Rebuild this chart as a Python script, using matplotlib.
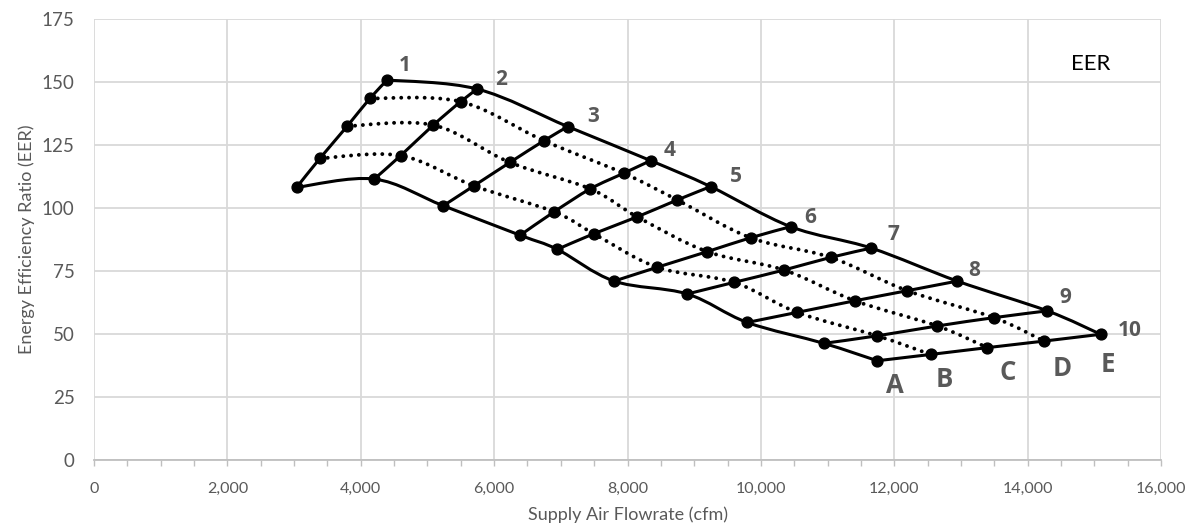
import numpy as np
import matplotlib
matplotlib.use('Agg')
import matplotlib.pyplot as plt
from matplotlib.path import Path
from matplotlib.patches import PathPatch
from matplotlib.ticker import MultipleLocator, FuncFormatter

plt.rcParams['font.family'] = ['Lato', 'DejaVu Sans']

# flowrate (cfm) and EER for curves A..E, one value per speed line 1..10
flow_A = [3039, 4203, 5238, 6390, 6947, 7799, 8896, 9796, 10945, 11745]
flow_B = [3388, 4599, 5697, 6900, 7495, 8446, 9597, 10545, 11745, 12545]
flow_C = [3798, 5088, 6237, 7442, 8146, 9196, 10346, 11410, 12645, 13394]
flow_D = [4138, 5498, 6747, 7942, 8746, 9846, 11046, 12195, 13495, 14244]
flow_E = [4398, 5748, 7105, 8347, 9246, 10446, 11655, 12945, 14294, 15094]

eer_A = [108.2, 111.5, 100.9, 89.2, 83.6, 71.0, 65.9, 54.6, 46.3, 39.4]
eer_B = [119.7, 120.8, 108.8, 98.5, 89.8, 76.5, 70.5, 58.6, 49.3, 41.9]
eer_C = [132.5, 132.9, 118.1, 107.6, 96.5, 82.7, 75.4, 63.2, 53.2, 44.6]
eer_D = [143.5, 142.2, 126.7, 113.8, 103.2, 88.2, 80.4, 67.2, 56.5, 47.2]
eer_E = [150.8, 147.2, 132.3, 118.8, 108.5, 92.6, 84.1, 71.0, 59.2, 49.9]

curve_names = ['A', 'B', 'C', 'D', 'E']
speed_names = [str(i) for i in range(1, 11)]

flows = np.array([flow_A, flow_B, flow_C, flow_D, flow_E], dtype=float)
eers = np.array([eer_A, eer_B, eer_C, eer_D, eer_E], dtype=float)


def smooth_path(xs, ys):
    # Excel-style smoothed line: cubic bezier through the points
    pts = np.column_stack([xs, ys])
    n = len(pts)
    verts = [pts[0]]
    codes = [Path.MOVETO]
    for i in range(n - 1):
        p0 = pts[max(i - 1, 0)]
        p1 = pts[i]
        p2 = pts[i + 1]
        p3 = pts[min(i + 2, n - 1)]
        c1 = p1 + (p2 - p0) / 6.0
        c2 = p2 - (p3 - p1) / 6.0
        verts += [c1, c2, p2]
        codes += [Path.CURVE4] * 3
    return Path(verts, codes)


fig = plt.figure(figsize=(11.94, 5.27), dpi=100)
ax = fig.add_axes([0.0787, 0.127, 0.8937, 0.837])

# speed lines 1..10 (A to E)
for j in range(flows.shape[1]):
    p = smooth_path(flows[:, j], eers[:, j])
    ax.add_patch(PathPatch(p, fill=False, edgecolor='black', lw=2.2, zorder=3))

# curves A..E across speeds
for i, name in enumerate(curve_names):
    if name in ('A', 'E'):
        ax.add_patch(PathPatch(smooth_path(flows[i], eers[i]), fill=False,
                               edgecolor='black', lw=2.2, zorder=3))
    else:
        ax.add_patch(PathPatch(smooth_path(flows[i], eers[i]), fill=False,
                               edgecolor='black', lw=2.8, linestyle=(0, (0.01, 2.0)),
                               capstyle='round', zorder=3))

ax.plot(flows.ravel(), eers.ravel(), 'o', color='black', ms=7.8, zorder=4)

lab_font = ['Open Sans', 'DejaVu Sans']

# speed labels beside the E points
num_off = [(8, 3), (13, -1), (14, 0), (9, 0), (14, 0), (10, -1), (12, 2), (8, 0), (9, 2), (12, -5)]
for j, name in enumerate(speed_names):
    ax.annotate(name, (flows[4, j], eers[4, j]), xytext=num_off[j],
                textcoords='offset points', ha='left', va='bottom', family=lab_font,
                fontsize=15, fontweight='bold', color='#595959')

# curve labels below the speed 10 points
let_off = [(13, -8), (10, -8), (15, -8), (13, -10), (5, -12)]
for i, name in enumerate(curve_names):
    ax.annotate(name, (flows[i, -1], eers[i, -1]), xytext=let_off[i],
                textcoords='offset points', ha='center', va='top', family=lab_font,
                fontsize=18.5, fontweight='bold', color='#595959')

ax.text(0.934, 0.897, 'EER', transform=ax.transAxes, ha='center', va='center',
        fontsize=16, color='black')

ax.set_xlim(0, 16000)
ax.set_ylim(0, 175)
ax.xaxis.set_major_locator(MultipleLocator(2000))
ax.xaxis.set_minor_locator(MultipleLocator(500))
ax.yaxis.set_major_locator(MultipleLocator(25))
ax.xaxis.set_major_formatter(FuncFormatter(lambda v, p: f'{int(v):,}'))

ax.grid(True, which='major', color='#d9d9d9', lw=1.3, zorder=0)
ax.set_axisbelow(True)
for s in ['top', 'right', 'left']:
    ax.spines[s].set_visible(False)
ax.spines['bottom'].set_color('#bfbfbf')
ax.spines['bottom'].set_linewidth(1.3)

ax.tick_params(axis='x', which='both', direction='out', length=4, color='#bfbfbf',
               width=1.0, labelsize=11.5, labelcolor='#595959', pad=12)
ax.tick_params(axis='y', length=0, labelsize=13.5, labelcolor='#595959', pad=14)

ax.set_xlabel('Supply Air Flowrate (cfm)', fontsize=13, color='#595959', labelpad=7)
ax.set_ylabel('Energy Efficiency Ratio (EER)', fontsize=13, color='#595959', labelpad=5)

fig.savefig('out.png', dpi=100)
